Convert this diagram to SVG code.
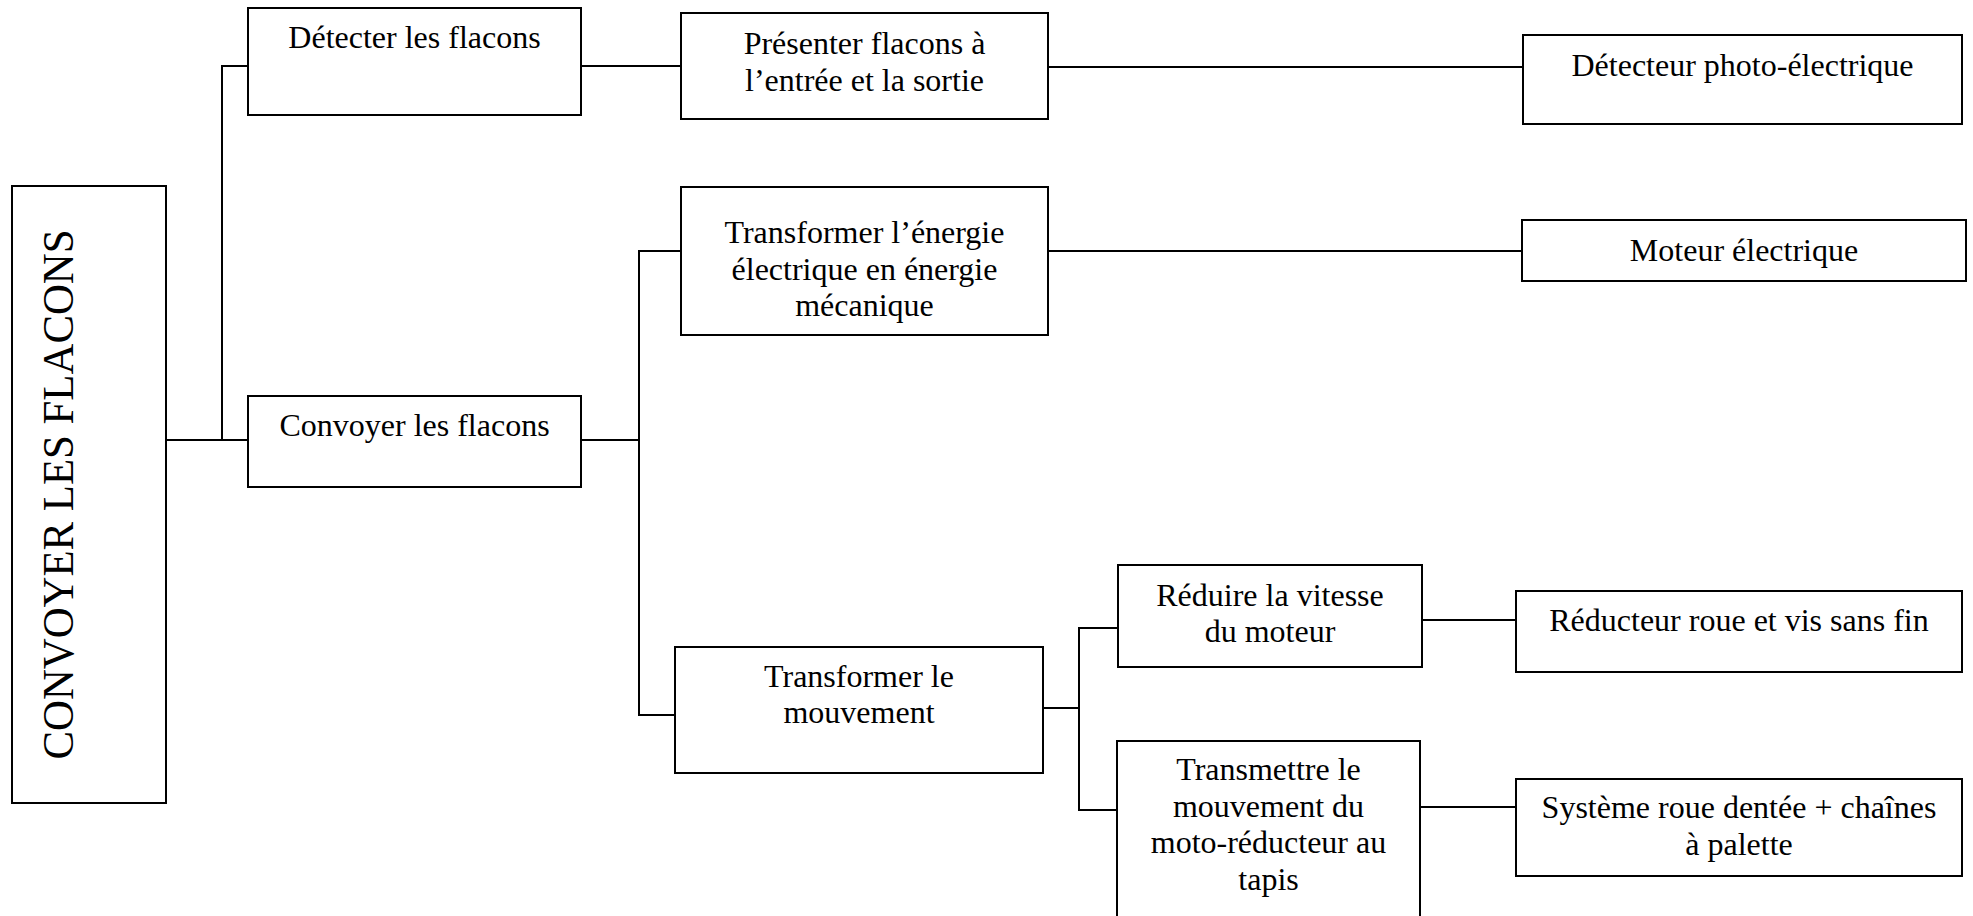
<svg xmlns="http://www.w3.org/2000/svg" width="1973" height="916" viewBox="0 0 1973 916">
<style>
rect{fill:#fff;stroke:#000;stroke-width:2}
text{font-family:"Liberation Serif","Times New Roman",serif;font-size:32px;fill:#000;text-anchor:middle}
.c{fill:none;stroke:#000;stroke-width:2}
</style>
<rect x="0" y="0" width="1973" height="916" style="stroke:none"/>
<g id="connectors">
<path class="c" d="M166 440H248"/>
<path class="c" d="M222 440V66H248"/>
<path class="c" d="M581 66H681"/>
<path class="c" d="M1048 67H1523"/>
<path class="c" d="M581 440H639"/>
<path class="c" d="M681 251H639V715H675"/>
<path class="c" d="M1048 251H1522"/>
<path class="c" d="M1043 708H1079"/>
<path class="c" d="M1118 628H1079V810H1117"/>
<path class="c" d="M1422 620H1516"/>
<path class="c" d="M1420 807H1516"/>
</g>
<g id="root">
<rect x="12" y="186" width="154" height="617"/>
<text transform="translate(73,494.5) rotate(-90)" style="font-size:44px" textLength="530" lengthAdjust="spacingAndGlyphs">CONVOYER LES FLACONS</text>
</g>
<g id="n1">
<rect x="248" y="8" width="333" height="107"/>
<text x="414.5" y="48">Détecter les flacons</text>
</g>
<g id="n2">
<rect x="248" y="396" width="333" height="91"/>
<text x="414.5" y="436">Convoyer les flacons</text>
</g>
<g id="n3">
<rect x="681" y="13" width="367" height="106"/>
<text x="864.5" y="54">Présenter flacons à</text>
<text x="864.5" y="91">l’entrée et la sortie</text>
</g>
<g id="n4">
<rect x="681" y="187" width="367" height="148"/>
<text x="864.5" y="243">Transformer l’énergie</text>
<text x="864.5" y="280">électrique en énergie</text>
<text x="864.5" y="316">mécanique</text>
</g>
<g id="n5">
<rect x="675" y="647" width="368" height="126"/>
<text x="859" y="687">Transformer le</text>
<text x="859" y="723">mouvement</text>
</g>
<g id="n6">
<rect x="1118" y="565" width="304" height="102"/>
<text x="1270" y="606">Réduire la vitesse</text>
<text x="1270" y="642">du moteur</text>
</g>
<g id="n7">
<rect x="1117" y="741" width="303" height="200"/>
<text x="1268.5" y="780">Transmettre le</text>
<text x="1268.5" y="817">mouvement du</text>
<text x="1268.5" y="853">moto-réducteur au</text>
<text x="1268.5" y="890">tapis</text>
</g>
<g id="n8">
<rect x="1523" y="35" width="439" height="89"/>
<text x="1742.5" y="76">Détecteur photo-électrique</text>
</g>
<g id="n9">
<rect x="1522" y="220" width="444" height="61"/>
<text x="1744" y="261">Moteur électrique</text>
</g>
<g id="n10">
<rect x="1516" y="591" width="446" height="81"/>
<text x="1739" y="631">Réducteur roue et vis sans fin</text>
</g>
<g id="n11">
<rect x="1516" y="779" width="446" height="97"/>
<text x="1739" y="818">Système roue dentée + chaînes</text>
<text x="1739" y="855">à palette</text>
</g>
</svg>
